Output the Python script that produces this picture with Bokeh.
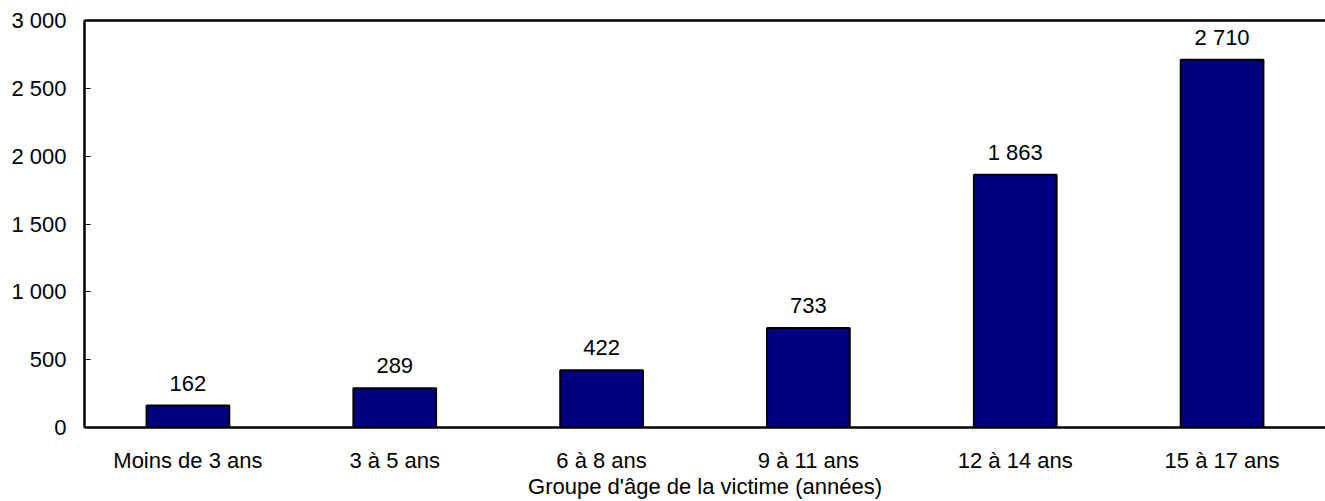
from bokeh.plotting import figure
from bokeh.models import (ColumnDataSource, FixedTicker, LinearAxis, LabelSet,
                          FactorRange, Range1d)
from bokeh.core.properties import value
from bokeh.embed import file_html
from bokeh.resources import INLINE

categories = ["Moins de 3 ans", "3 à 5 ans", "6 à 8 ans", "9 à 11 ans",
              "12 à 14 ans", "15 à 17 ans"]
values = [162, 289, 422, 733, 1863, 2710]
y_ticks = [0, 500, 1000, 1500, 2000, 2500, 3000]
x_title = "Groupe d'âge de la victime (années)"

def fmt(v):
    return f"{v:,}".replace(",", " ")

value_labels = [fmt(v) for v in values]

FONT = "Liberation Sans"
FS = "22px"

src = ColumnDataSource(dict(cat=categories, val=values, lab=value_labels))

p = figure(x_range=FactorRange(*categories, range_padding=0),
           y_range=Range1d(0, 3000),
           width=1325, height=501, output_backend="svg",
           toolbar_location=None,
           min_border_left=84, min_border_right=0,
           min_border_top=20, min_border_bottom=74)

p.vbar(x="cat", top="val", width=0.4, source=src,
       fill_color="#000080", line_color="black", line_width=2)

labels = LabelSet(x="cat", y="val", text="lab", source=src,
                  text_align="center", text_baseline="alphabetic",
                  y_offset=15, text_font=value(FONT), text_font_size=value(FS),
                  text_color="black")
p.add_layout(labels)

p.xgrid.grid_line_color = None
p.ygrid.grid_line_color = None
p.outline_line_color = None
p.background_fill_color = "white"
p.border_fill_color = "white"

ya = p.yaxis[0]
ya.ticker = FixedTicker(ticks=y_ticks)
ya.major_label_overrides = {t: fmt(t) for t in y_ticks}
ya.major_tick_in = 6
ya.major_tick_out = 0
ya.minor_tick_in = 0
ya.minor_tick_out = 0
ya.axis_line_width = 2.5
ya.major_tick_line_width = 1
ya.major_label_standoff = 18
ya.major_label_text_font = FONT
ya.major_label_text_font_size = FS
ya.major_label_text_color = "black"

xa = p.xaxis[0]
xa.axis_line_width = 2.5
xa.major_tick_in = 0
xa.major_tick_out = 0
xa.major_label_standoff = 20
xa.major_label_text_font = FONT
xa.major_label_text_font_size = FS
xa.major_label_text_color = "black"
xa.axis_label = x_title
xa.axis_label_standoff = -2
xa.axis_label_text_font = FONT
xa.axis_label_text_font_size = FS
xa.axis_label_text_font_style = "normal"
xa.axis_label_text_color = "black"

top = LinearAxis(ticker=FixedTicker(ticks=[]), major_label_text_font_size="0px",
                 major_tick_out=0, major_tick_in=0, minor_tick_out=0,
                 minor_tick_in=0, major_label_standoff=0, axis_line_width=2.5)
p.add_layout(top, "above")

open("out.html", "w").write(file_html(p, INLINE))
